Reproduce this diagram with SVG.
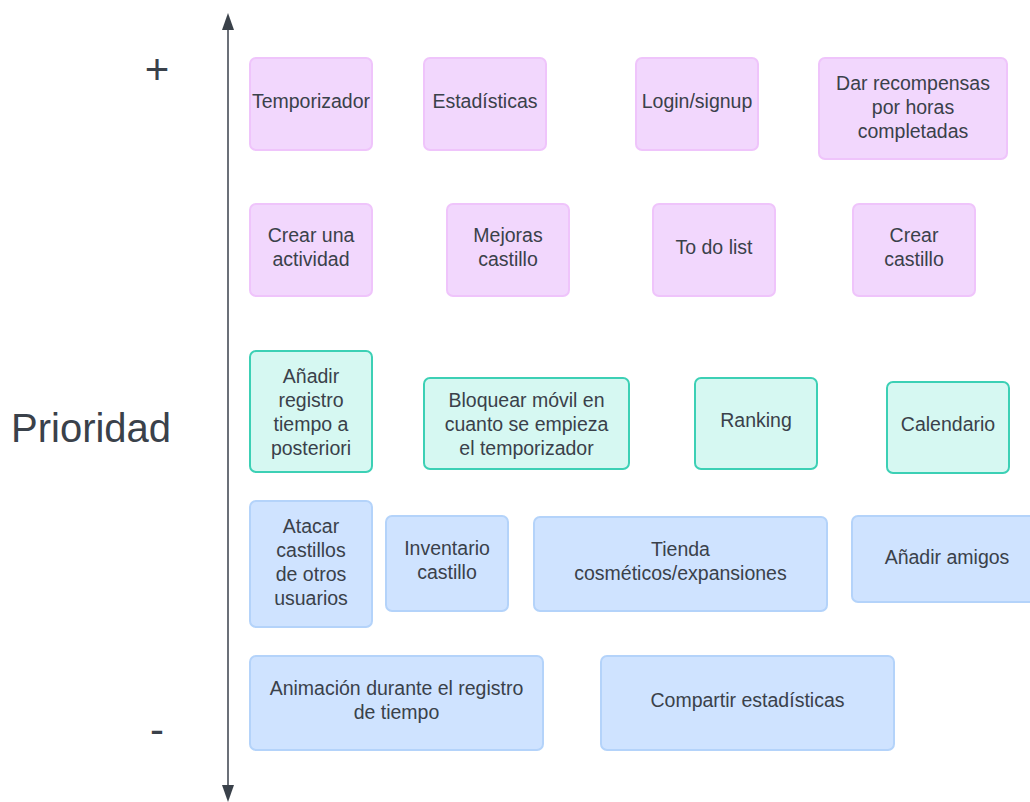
<svg xmlns="http://www.w3.org/2000/svg" width="1030" height="802" viewBox="0 0 1030 802">
<style>
.p{fill:#f2d7fd;stroke:#efc4fb;stroke-width:2}
.g{fill:#d6f8f2;stroke:#3cd0b5;stroke-width:2}
.b{fill:#cfe3ff;stroke:#b4d3fa;stroke-width:2}
text{font-family:"Liberation Sans",Arial,sans-serif;font-size:19.5px;fill:#3a414a;text-anchor:middle}
.big{font-size:40px;text-anchor:start}
</style>
<rect width="1030" height="802" fill="#fff"/>
<text class="big" x="11" y="442">Prioridad</text>
<text x="157" y="84" style="font-size:42px">+</text>
<text x="157" y="744" style="font-size:42px">-</text>
<g id="connectors">
<line x1="228" y1="28" x2="228" y2="786" stroke="#6b7078" stroke-width="2"/>
<path d="M222,30 L228,13 L234,30 Z" fill="#3a414a"/>
<path d="M222,785 L228,802 L234,785 Z" fill="#3a414a"/>
</g>
<g id="n1"><rect class="p" x="250" y="58" width="122" height="92" rx="6"/><text x="311" y="108">Temporizador</text></g>
<g id="n2"><rect class="p" x="424" y="58" width="122" height="92" rx="6"/><text x="485" y="108">Estadísticas</text></g>
<g id="n3"><rect class="p" x="636" y="58" width="122" height="92" rx="6"/><text x="697" y="108">Login/signup</text></g>
<g id="n4"><rect class="p" x="819" y="58" width="188" height="101" rx="6"/><text x="913" y="90">Dar recompensas</text><text x="913" y="114">por horas</text><text x="913" y="138">completadas</text></g>
<g id="n5"><rect class="p" x="250" y="204" width="122" height="92" rx="6"/><text x="311" y="242">Crear una</text><text x="311" y="266">actividad</text></g>
<g id="n6"><rect class="p" x="447" y="204" width="122" height="92" rx="6"/><text x="508" y="242">Mejoras</text><text x="508" y="266">castillo</text></g>
<g id="n7"><rect class="p" x="653" y="204" width="122" height="92" rx="6"/><text x="714" y="254">To do list</text></g>
<g id="n8"><rect class="p" x="853" y="204" width="122" height="92" rx="6"/><text x="914" y="242">Crear</text><text x="914" y="266">castillo</text></g>
<g id="n9"><rect class="g" x="250" y="351" width="122" height="121" rx="6"/><text x="311" y="383">Añadir</text><text x="311" y="407">registro</text><text x="311" y="431">tiempo a</text><text x="311" y="455">posteriori</text></g>
<g id="n10"><rect class="g" x="424" y="378" width="205" height="91" rx="6"/><text x="526.5" y="407">Bloquear móvil en</text><text x="526.5" y="431">cuanto se empieza</text><text x="526.5" y="455">el temporizador</text></g>
<g id="n11"><rect class="g" x="695" y="378" width="122" height="91" rx="6"/><text x="756" y="427">Ranking</text></g>
<g id="n12"><rect class="g" x="887" y="382" width="122" height="91" rx="6"/><text x="948" y="431">Calendario</text></g>
<g id="n13"><rect class="b" x="250" y="501" width="122" height="126" rx="6"/><text x="311" y="533">Atacar</text><text x="311" y="557">castillos</text><text x="311" y="581">de otros</text><text x="311" y="605">usuarios</text></g>
<g id="n14"><rect class="b" x="386" y="516" width="122" height="95" rx="6"/><text x="447" y="555">Inventario</text><text x="447" y="579">castillo</text></g>
<g id="n15"><rect class="b" x="534" y="517" width="293" height="94" rx="6"/><text x="680.5" y="556">Tienda</text><text x="680.5" y="580">cosméticos/expansiones</text></g>
<g id="n16"><rect class="b" x="852" y="516" width="190" height="86" rx="6"/><text x="947" y="564">Añadir amigos</text></g>
<g id="n17"><rect class="b" x="250" y="656" width="293" height="94" rx="6"/><text x="396.5" y="695">Animación durante el registro</text><text x="396.5" y="719">de tiempo</text></g>
<g id="n18"><rect class="b" x="601" y="656" width="293" height="94" rx="6"/><text x="747.5" y="707">Compartir estadísticas</text></g>
</svg>
